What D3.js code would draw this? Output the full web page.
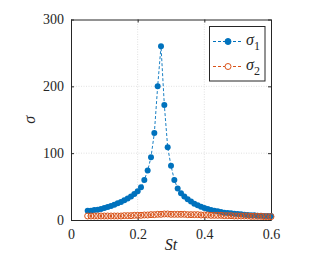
<!DOCTYPE html>
<html>
<head>
<meta charset="utf-8">
<script src="https://cdn.jsdelivr.net/npm/d3@7"></script>
<style>
  body { margin: 0; background: #fff; }
  svg { display: block; }
</style>
</head>
<body>
<div class="chart"></div>
<script>
// Strouhal numbers (0.05 .. 0.60, step 0.01)
const st = [0.05, 0.06, 0.07, 0.08, 0.09, 0.10, 0.11, 0.12, 0.13, 0.14,
            0.15, 0.16, 0.17, 0.18, 0.19, 0.20, 0.21, 0.22, 0.23, 0.24,
            0.25, 0.26, 0.27, 0.28, 0.29, 0.30, 0.31, 0.32, 0.33, 0.34,
            0.35, 0.36, 0.37, 0.38, 0.39, 0.40, 0.41, 0.42, 0.43, 0.44,
            0.45, 0.46, 0.47, 0.48, 0.49, 0.50, 0.51, 0.52, 0.53, 0.54,
            0.55, 0.56, 0.57, 0.58, 0.59, 0.60];
const sigma1 = [14, 14, 15, 15.5, 16.5, 18, 19.5, 21, 23, 25,
                27, 29.5, 32, 35, 39, 43, 49, 60, 74, 94,
                130, 200, 260, 172, 109, 81, 60, 47, 40, 35,
                31, 27.5, 24.5, 22, 20, 18, 16.5, 15, 14, 13,
                12, 11, 10.5, 10, 9.5, 9, 8.5, 8, 7.5, 7,
                7, 6.5, 6.5, 6, 6, 6];
const sigma2 = [6, 6, 6, 6, 6, 6, 6, 6, 6, 6,
                6, 6.5, 6.5, 6.5, 7, 7, 7, 7.5, 7.5, 8,
                8, 8.5, 8.5, 9, 9, 8.5, 8.5, 8.5, 8.5, 8.5,
                8, 8, 8, 8, 7.5, 7.5, 7.5, 7, 7, 7,
                7, 6.5, 6.5, 6.5, 6, 6, 6, 6, 6, 5.5,
                5.5, 5.5, 5.5, 5, 5, 5];
const xTicks = [0, 0.2, 0.4, 0.6];
const yTicks = [0, 100, 200, 300];

const W = 332, H = 262;
const m = { left: 71, right: 61, top: 19.5, bottom: 42 };
const blue = '#0072BD', orange = '#D95319';
const serif = "Liberation Serif, Tinos, DejaVu Serif, serif";

const svg = d3.select('.chart').append('svg')
    .attr('width', W)
    .attr('height', H)
    .style('font-family', serif);

const x = d3.scaleLinear().domain([0, 0.6]).range([m.left, W - m.right]);
const y = d3.scaleLinear().domain([0, 300]).range([H - m.bottom, m.top]);

// grid
const grid = svg.append('g')
    .attr('stroke', '#d9d9d9')
    .attr('stroke-width', 0.8)
    .attr('stroke-dasharray', '1,1.5');
grid.selectAll('.gx').data(xTicks.slice(1, -1)).join('line')
    .attr('x1', d => x(d)).attr('x2', d => x(d))
    .attr('y1', y(0)).attr('y2', y(300));
grid.selectAll('.gy').data(yTicks.slice(1, -1)).join('line')
    .attr('y1', d => y(d)).attr('y2', d => y(d))
    .attr('x1', x(0)).attr('x2', x(0.6));

// axes (ticks inward, box)
const fmt = d => d === 0 ? '0' : String(d);
const gx = svg.append('g').attr('transform', `translate(0,${y(0)})`)
    .call(d3.axisBottom(x).tickValues(xTicks).tickSizeInner(-3).tickSizeOuter(0).tickPadding(9).tickFormat(fmt));
const gxt = svg.append('g').attr('transform', `translate(0,${y(300)})`)
    .call(d3.axisTop(x).tickValues(xTicks).tickSizeInner(-3).tickSizeOuter(0).tickFormat(''));
const gy = svg.append('g').attr('transform', `translate(${x(0)},0)`)
    .call(d3.axisLeft(y).tickValues(yTicks).tickSizeInner(-3).tickSizeOuter(0).tickPadding(7).tickFormat(fmt));
const gyr = svg.append('g').attr('transform', `translate(${x(0.6)},0)`)
    .call(d3.axisRight(y).tickValues(yTicks).tickSizeInner(-3).tickSizeOuter(0).tickFormat(''));

[gx, gxt, gy, gyr].forEach(g => {
    g.attr('font-family', null).attr('font-size', null);
    g.selectAll('.domain').attr('stroke', '#262626').attr('stroke-width', 1);
    g.selectAll('.tick line').attr('stroke', '#262626');
    g.selectAll('text').style('font-family', serif).style('font-size', '14px').attr('fill', '#262626');
});

// series
const line = d3.line().x((d, i) => x(st[i])).y(d => y(d));

svg.append('path').datum(sigma1)
    .attr('d', line).attr('fill', 'none')
    .attr('stroke', blue).attr('stroke-width', 0.9).attr('stroke-dasharray', '3,2');
svg.append('g').selectAll('circle').data(sigma1).join('circle')
    .attr('cx', (d, i) => x(st[i])).attr('cy', d => y(d))
    .attr('r', 3).attr('fill', blue);

svg.append('path').datum(sigma2)
    .attr('d', line).attr('fill', 'none')
    .attr('stroke', orange).attr('stroke-width', 0.9).attr('stroke-dasharray', '3,2');
svg.append('g').selectAll('circle').data(sigma2).join('circle')
    .attr('cx', (d, i) => x(st[i])).attr('cy', d => y(d))
    .attr('r', 3).attr('fill', 'none').attr('stroke', orange).attr('stroke-width', 1);

// axis labels
svg.append('text')
    .attr('x', x(0.3)).attr('y', 250)
    .attr('text-anchor', 'middle')
    .style('font-family', serif)
    .attr('font-size', 16).attr('font-style', 'italic').attr('fill', '#262626')
    .text('St');
svg.append('text')
    .attr('transform', `translate(35,${y(150)}) rotate(-90)`)
    .attr('text-anchor', 'middle')
    .style('font-family', serif)
    .attr('font-size', 16).attr('font-style', 'italic').attr('fill', '#262626')
    .text('σ');

// legend
const names = ['1', '2'];
const leg = svg.append('g');
leg.append('rect')
    .attr('x', 209.5).attr('y', 26.5).attr('width', 55.5).attr('height', 54.5)
    .attr('fill', '#fff').attr('stroke', '#262626').attr('stroke-width', 1);
names.forEach((n, i) => {
    const cy = 41.5 + i * 25;
    const c = i === 0 ? blue : orange;
    leg.append('line')
        .attr('x1', 213).attr('x2', 243).attr('y1', cy).attr('y2', cy)
        .attr('stroke', c).attr('stroke-dasharray', '3,2');
    leg.append('circle')
        .attr('cx', 228).attr('cy', cy).attr('r', 3)
        .attr('fill', i === 0 ? blue : '#fff')
        .attr('stroke', c).attr('stroke-width', 1);
    const t = leg.append('text')
        .attr('x', 246).attr('y', cy + 3)
        .style('font-family', serif)
        .attr('font-size', 16).attr('fill', '#262626');
    t.append('tspan').attr('font-style', 'italic').text('σ');
    t.append('tspan').attr('dy', 5).attr('font-size', 12).text(n);
});
</script>
</body>
</html>
